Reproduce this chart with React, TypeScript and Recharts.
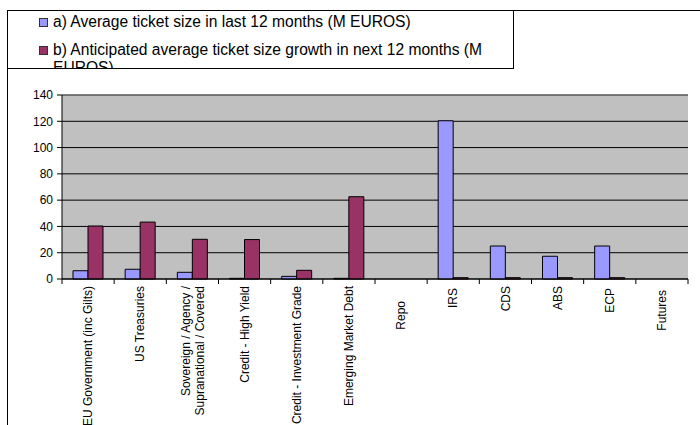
import React from 'react';
import {
    BarChart,
    Bar,
    XAxis,
    YAxis,
    CartesianGrid,
    ReferenceLine,
} from 'recharts';

const categories = [
    'EU Government (inc Gilts)',
    'US Treasuries',
    'Sovereign / Agency / Supranational / Covered',
    'Credit - High Yield',
    'Credit - Investment Grade',
    'Emerging Market Debt',
    'Repo',
    'IRS',
    'CDS',
    'ABS',
    'ECP',
    'Futures',
];

// a) Average ticket size in last 12 months
const avgTicketSize = [6.3, 7.4, 5.1, 0.5, 2, 0.5, 0, 120.4, 25.1, 17.3, 25.1, 0];
// b) Anticipated average ticket size growth in next 12 months
const anticipatedGrowth = [40.3, 43.3, 30.2, 30, 6.6, 62.6, 0, 1, 1, 1, 1, 0];

const yTicks = [0, 20, 40, 60, 80, 100, 120, 140];

const seriesNames = [
    'a) Average ticket size in last 12 months (M EUROS)',
    'b) Anticipated average ticket size growth in next 12 months (M EUROS)',
];
const seriesColors = ['#9999FF', '#993366'];

const FONT = 'Arial, "Liberation Sans", sans-serif';

const data = categories.map((name, i) => ({
    name,
    a: avgTicketSize[i],
    b: anticipatedGrowth[i],
}));

// greedy word wrap for the long category names
const wrapLabel = (text: string, max = 26) => {
    const words = text.split(' ');
    const lines: string[] = [];
    let cur = '';
    words.forEach(w => {
        const next = cur ? cur + ' ' + w : w;
        if (next.length > max && cur) {
            lines.push(cur);
            cur = w;
        } else {
            cur = next;
        }
    });
    if (cur) lines.push(cur);
    return lines;
};

const TICK_SIZE = 5;
const TICK_MARGIN = 3;

// a few labels sit a bit lower in the original
const labelDrop: Record<string, number> = { Repo: 15, Futures: 4, IRS: 2, ECP: 2 };

const CategoryTick = (props: any) => {
    const { x, y, payload } = props;
    const half = payload.offset || 26;
    const axisY = y - TICK_SIZE - TICK_MARGIN;
    const lines = wrapLabel(String(payload.value));
    const isLast = payload.value === categories[categories.length - 1];
    const lineGap = 14;
    const startShift = -((lines.length - 1) * lineGap) / 2;
    const ty = y - 1 + (labelDrop[payload.value] || 0);
    return (
        <g>
            <line x1={x - half} x2={x - half} y1={axisY} y2={axisY + 5} stroke="#000" />
            {isLast && <line x1={x + half} x2={x + half} y1={axisY} y2={axisY + 5} stroke="#000" />}
            <text
                x={x}
                y={ty}
                transform={`rotate(-90, ${x}, ${ty})`}
                textAnchor="end"
                fontSize={12}
                fontFamily={FONT}
                fill="#000"
            >
                {lines.map((ln, i) => (
                    <tspan key={i} x={x} dy={i === 0 ? startShift + 4.2 : lineGap}>
                        {ln}
                    </tspan>
                ))}
            </text>
        </g>
    );
};

export default function App() {
    return (
        <div style={{ position: 'absolute', left: 0, top: 0, width: 700, height: 425, overflow: 'hidden', background: '#fff', fontFamily: FONT }}>
            {/* outer frame */}
            <div style={{ position: 'absolute', left: 7, top: 10, width: 700, height: 420, borderLeft: '1px solid #000', borderTop: '1px solid #000' }} />
            <BarChart
                width={700}
                height={425}
                data={data}
                barSize={15}
                barGap={0}
                margin={{ top: 95, right: 12, left: 8, bottom: 6 }}
                style={{ position: 'absolute', left: 0, top: 0 }}
            >
                <CartesianGrid vertical={false} stroke="#000" fill="#C0C0C0" fillOpacity={1} />
                <XAxis
                    dataKey="name"
                    interval={0}
                    height={140}
                    tickSize={TICK_SIZE}
                    tickMargin={TICK_MARGIN}
                    tickLine={false}
                    axisLine={{ stroke: '#000' }}
                    tick={<CategoryTick />}
                />
                <YAxis
                    width={54}
                    domain={[0, 140]}
                    ticks={yTicks}
                    interval={0}
                    tickSize={5}
                    tickMargin={4}
                    axisLine={{ stroke: '#000' }}
                    tickLine={{ stroke: '#000' }}
                    tick={{ fill: '#000', fontSize: 12, fontFamily: FONT }}
                />
                <YAxis
                    yAxisId="right"
                    orientation="right"
                    width={0}
                    domain={[0, 140]}
                    tick={false}
                    tickLine={false}
                    axisLine={{ stroke: '#808080' }}
                />
                <ReferenceLine y={140} stroke="#808080" />
                <Bar dataKey="a" name={seriesNames[0]} fill={seriesColors[0]} stroke="#000" strokeWidth={1} isAnimationActive={false} />
                <Bar dataKey="b" name={seriesNames[1]} fill={seriesColors[1]} stroke="#000" strokeWidth={1} isAnimationActive={false} />
            </BarChart>
            {/* legend box, clipped like the original */}
            <div style={{ position: 'absolute', left: 7, top: 10, width: 505, height: 57, border: '1px solid #000', background: '#fff', overflow: 'hidden' }}>
                {seriesNames.map((name, i) => (
                    <div key={name} style={{ position: 'absolute', left: 31, top: i === 0 ? 2 : 29.5, display: 'flex', alignItems: 'flex-start' }}>
                        <div style={{ width: 7, height: 7, marginTop: 5, marginRight: 5, background: seriesColors[i], border: '1px solid #333' }} />
                        <div style={{ width: 450, fontSize: 15.6, lineHeight: '18px', color: '#000' }}>{name}</div>
                    </div>
                ))}
            </div>
        </div>
    );
}
